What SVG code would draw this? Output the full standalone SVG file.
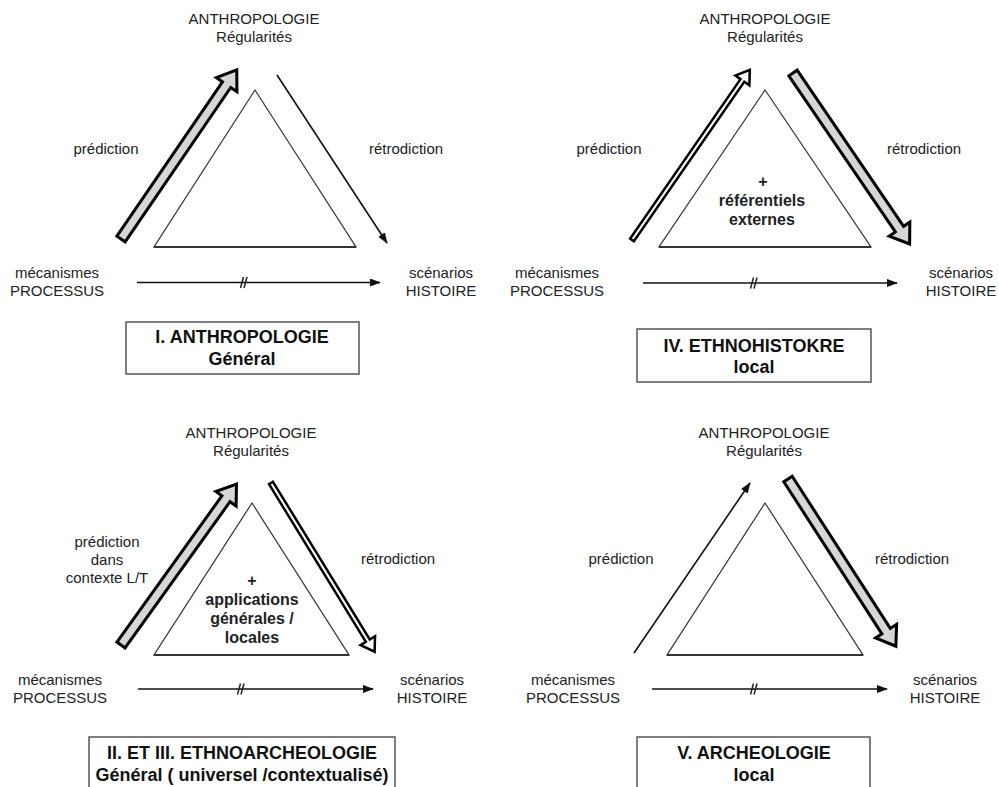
<svg xmlns="http://www.w3.org/2000/svg" width="999" height="787" viewBox="0 0 999 787">
<defs>
<style>
text{font-family:"Liberation Sans",Arial,Helvetica,sans-serif;fill:#222;text-anchor:middle}
.lb{font-size:15px}
.in{font-size:16px;font-weight:bold}
.tt{font-size:18px;font-weight:bold;fill:#111}
.tri{fill:#fff;stroke:#333;stroke-width:1.2;stroke-linejoin:miter}
.base{stroke:#333;stroke-width:2}
.box{fill:#fff;stroke:#555;stroke-width:1.5}
.thin{stroke:#111;stroke-width:1.6;fill:none}
.gray{fill:#d6d6d6;stroke:#000;stroke-width:3;stroke-linejoin:miter}
.hol{fill:#fff;stroke:#000;stroke-width:2.5;stroke-linejoin:miter}
.tick{stroke:#222;stroke-width:1.5}
</style>
<marker id="ah" markerUnits="userSpaceOnUse" markerWidth="11" markerHeight="9" refX="10" refY="4" orient="auto">
<path d="M0,0 L11,4 L0,8 Z" fill="#111"/>
</marker>
</defs>
<rect width="999" height="787" fill="#fff"/>

<g id="connectors">
<!-- Panel I -->
<path class="gray" transform="translate(121,239) rotate(-55.62)" d="M0,-5 L187,-5 L187,-12.5 L205,0 L187,12.5 L187,5 L0,5 Z"/>
<line class="thin" x1="277" y1="75" x2="387" y2="243" marker-end="url(#ah)"/>
<line class="thin" x1="137" y1="282.5" x2="380" y2="282.5" marker-end="url(#ah)"/>
<line class="tick" x1="240.5" y1="288" x2="243.5" y2="277"/>
<line class="tick" x1="244" y1="288" x2="247" y2="277"/>
<!-- Panel IV -->
<path class="hol" transform="translate(632,240) rotate(-55.32)" d="M0,-2.3 L194,-2.3 L194,-8.5 L207,0 L194,8.5 L194,2.3 L0,2.3 Z"/>
<path class="gray" transform="translate(793,73) rotate(55.7)" d="M0,-5 L189,-5 L189,-12.5 L207,0 L189,12.5 L189,5 L0,5 Z"/>
<line class="thin" x1="643" y1="283" x2="897" y2="283" marker-end="url(#ah)"/>
<line class="tick" x1="750.5" y1="288.5" x2="753.5" y2="277.5"/>
<line class="tick" x1="754" y1="288.5" x2="757" y2="277.5"/>
<!-- Panel II -->
<path class="gray" transform="translate(121,645) rotate(-54.33)" d="M0,-5 L180,-5 L180,-12.5 L198,0 L180,12.5 L180,5 L0,5 Z"/>
<path class="hol" transform="translate(271,483) rotate(58.45)" d="M0,-2.3 L185,-2.3 L185,-8.5 L198,0 L185,8.5 L185,2.3 L0,2.3 Z"/>
<line class="thin" x1="138" y1="689" x2="373" y2="689" marker-end="url(#ah)"/>
<line class="tick" x1="237.5" y1="694.5" x2="240.5" y2="683.5"/>
<line class="tick" x1="241" y1="694.5" x2="244" y2="683.5"/>
<!-- Panel V -->
<line class="thin" x1="634" y1="653" x2="750" y2="483" marker-end="url(#ah)"/>
<path class="gray" transform="translate(788,479) rotate(57.18)" d="M0,-5 L181,-5 L181,-12.5 L199,0 L181,12.5 L181,5 L0,5 Z"/>
<line class="thin" x1="652" y1="689" x2="887" y2="689" marker-end="url(#ah)"/>
<line class="tick" x1="750.5" y1="694.5" x2="753.5" y2="683.5"/>
<line class="tick" x1="754" y1="694.5" x2="757" y2="683.5"/>
</g>

<!-- Panel I nodes -->
<g id="p1-top"><text class="lb" x="254" y="24">ANTHROPOLOGIE</text><text class="lb" x="254" y="42">Régularités</text></g>
<g id="p1-left"><text class="lb" x="57" y="278">mécanismes</text><text class="lb" x="57" y="296">PROCESSUS</text></g>
<g id="p1-right"><text class="lb" x="441" y="278">scénarios</text><text class="lb" x="441" y="296">HISTOIRE</text></g>
<g id="p1-pred"><text class="lb" x="106" y="154">prédiction</text></g>
<g id="p1-retro"><text class="lb" x="406" y="154">rétrodiction</text></g>
<g id="p1-tri"><polygon class="tri" points="255,90 154,247 356,247"/><line class="base" x1="154" y1="247" x2="356" y2="247"/></g>
<g id="p1-box"><rect class="box" x="126" y="322" width="233" height="52"/><text class="tt" x="242" y="343">I. ANTHROPOLOGIE</text><text class="tt" x="242" y="365">Général</text></g>

<!-- Panel IV nodes -->
<g id="p4-top"><text class="lb" x="765" y="24">ANTHROPOLOGIE</text><text class="lb" x="765" y="42">Régularités</text></g>
<g id="p4-left"><text class="lb" x="557" y="278">mécanismes</text><text class="lb" x="557" y="296">PROCESSUS</text></g>
<g id="p4-right"><text class="lb" x="961" y="278">scénarios</text><text class="lb" x="961" y="296">HISTOIRE</text></g>
<g id="p4-pred"><text class="lb" x="609" y="154">prédiction</text></g>
<g id="p4-retro"><text class="lb" x="924" y="154">rétrodiction</text></g>
<g id="p4-tri"><polygon class="tri" points="765,90 659,247 871,247"/><line class="base" x1="659" y1="247" x2="871" y2="247"/>
<text class="in" x="763" y="187">+</text><text class="in" x="762" y="206">référentiels</text><text class="in" x="762" y="225">externes</text></g>
<g id="p4-box"><rect class="box" x="637" y="329" width="234" height="53"/><text class="tt" x="754" y="352">IV. ETHNOHISTOKRE</text><text class="tt" x="754" y="373">local</text></g>

<!-- Panel II nodes -->
<g id="p2-top"><text class="lb" x="251" y="438">ANTHROPOLOGIE</text><text class="lb" x="251" y="456">Régularités</text></g>
<g id="p2-left"><text class="lb" x="60" y="685">mécanismes</text><text class="lb" x="60" y="703">PROCESSUS</text></g>
<g id="p2-right"><text class="lb" x="432" y="685">scénarios</text><text class="lb" x="432" y="703">HISTOIRE</text></g>
<g id="p2-pred"><text class="lb" x="107" y="547">prédiction</text><text class="lb" x="107" y="565">dans</text><text class="lb" x="107" y="583">contexte L/T</text></g>
<g id="p2-retro"><text class="lb" x="398" y="564">rétrodiction</text></g>
<g id="p2-tri"><polygon class="tri" points="252,503 154,655 349,655"/><line class="base" x1="154" y1="655" x2="349" y2="655"/>
<text class="in" x="252" y="586">+</text><text class="in" x="252" y="605">applications</text><text class="in" x="252" y="624">générales /</text><text class="in" x="252" y="643">locales</text></g>
<g id="p2-box"><rect class="box" x="89" y="737" width="306" height="70"/><text class="tt" x="242" y="759">II. ET III. ETHNOARCHEOLOGIE</text><text class="tt" x="242" y="781">Général ( universel /contextualisé)</text></g>

<!-- Panel V nodes -->
<g id="p5-top"><text class="lb" x="764" y="438">ANTHROPOLOGIE</text><text class="lb" x="764" y="456">Régularités</text></g>
<g id="p5-left"><text class="lb" x="573" y="685">mécanismes</text><text class="lb" x="573" y="703">PROCESSUS</text></g>
<g id="p5-right"><text class="lb" x="945" y="685">scénarios</text><text class="lb" x="945" y="703">HISTOIRE</text></g>
<g id="p5-pred"><text class="lb" x="621" y="564">prédiction</text></g>
<g id="p5-retro"><text class="lb" x="912" y="564">rétrodiction</text></g>
<g id="p5-tri"><polygon class="tri" points="765,503 667,655 863,655"/><line class="base" x1="667" y1="655" x2="863" y2="655"/></g>
<g id="p5-box"><rect class="box" x="637" y="737" width="233" height="70"/><text class="tt" x="754" y="759">V. ARCHEOLOGIE</text><text class="tt" x="754" y="781">local</text></g>
</svg>
